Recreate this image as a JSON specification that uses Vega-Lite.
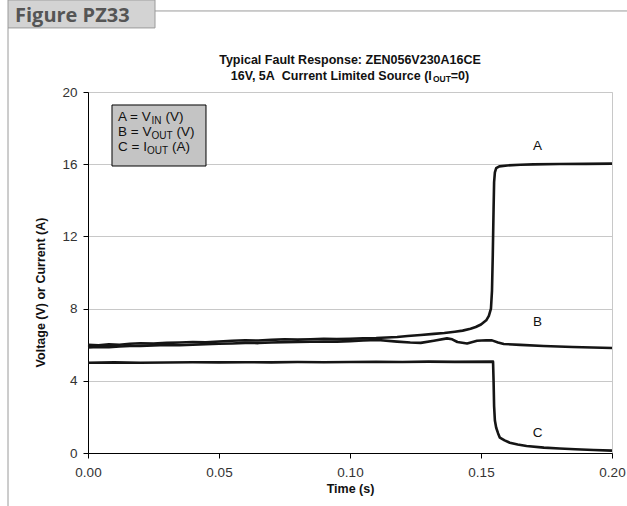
{
 "$schema": "https://vega.github.io/schema/vega-lite/v6.json",
 "width": 524, "height": 361,
 "autosize": {"type": "none"},
 "padding": {"left": 88, "top": 92, "right": 15, "bottom": 53},
 "background": "white",
 "config": {
  "font": "Liberation Sans",
  "view": {"stroke": "#c8c8c8", "strokeWidth": 1},
  "axis": {"labelFont": "Liberation Sans", "labelFontSize": 13.5, "labelColor": "#333", "labelFlush": false, "titleFont": "Liberation Sans", "titleFontSize": 12.5, "titleFontWeight": "bold", "titleColor": "#111", "domainColor": "#000", "tickColor": "#000", "tickSize": 5}
 },
 "datasets": {
  "curves": [
   {"s":"A","x":0,"y":6.0},{"s":"A","x":0.004,"y":5.97},{"s":"A","x":0.008,"y":6.02},{"s":"A","x":0.012,"y":6.0},{"s":"A","x":0.016,"y":6.05},{"s":"A","x":0.02,"y":6.08},{"s":"A","x":0.025,"y":6.06},{"s":"A","x":0.03,"y":6.1},{"s":"A","x":0.035,"y":6.12},{"s":"A","x":0.04,"y":6.15},{"s":"A","x":0.045,"y":6.13},{"s":"A","x":0.05,"y":6.18},{"s":"A","x":0.055,"y":6.22},{"s":"A","x":0.06,"y":6.25},{"s":"A","x":0.065,"y":6.23},{"s":"A","x":0.07,"y":6.27},{"s":"A","x":0.075,"y":6.3},{"s":"A","x":0.08,"y":6.28},{"s":"A","x":0.085,"y":6.3},{"s":"A","x":0.09,"y":6.33},{"s":"A","x":0.095,"y":6.31},{"s":"A","x":0.1,"y":6.33},{"s":"A","x":0.105,"y":6.35},{"s":"A","x":0.11,"y":6.37},{"s":"A","x":0.114,"y":6.4},{"s":"A","x":0.118,"y":6.43},{"s":"A","x":0.122,"y":6.48},{"s":"A","x":0.127,"y":6.54},{"s":"A","x":0.132,"y":6.6},{"s":"A","x":0.136,"y":6.65},{"s":"A","x":0.14,"y":6.72},{"s":"A","x":0.143,"y":6.78},{"s":"A","x":0.146,"y":6.88},{"s":"A","x":0.148,"y":6.98},{"s":"A","x":0.15,"y":7.12},{"s":"A","x":0.152,"y":7.35},{"s":"A","x":0.153,"y":7.6},{"s":"A","x":0.1538,"y":8.0},{"s":"A","x":0.1542,"y":9.0},{"s":"A","x":0.1545,"y":11.0},{"s":"A","x":0.1548,"y":13.5},{"s":"A","x":0.155,"y":15.0},{"s":"A","x":0.1553,"y":15.55},{"s":"A","x":0.1558,"y":15.78},{"s":"A","x":0.157,"y":15.88},{"s":"A","x":0.16,"y":15.93},{"s":"A","x":0.165,"y":15.97},{"s":"A","x":0.17,"y":15.99},{"s":"A","x":0.18,"y":16.01},{"s":"A","x":0.19,"y":16.02},{"s":"A","x":0.2,"y":16.03},
   {"s":"B","x":0,"y":5.85},{"s":"B","x":0.004,"y":5.88},{"s":"B","x":0.008,"y":5.86},{"s":"B","x":0.012,"y":5.9},{"s":"B","x":0.016,"y":5.93},{"s":"B","x":0.02,"y":5.93},{"s":"B","x":0.025,"y":5.96},{"s":"B","x":0.03,"y":5.98},{"s":"B","x":0.035,"y":5.97},{"s":"B","x":0.04,"y":6.0},{"s":"B","x":0.045,"y":6.03},{"s":"B","x":0.05,"y":6.05},{"s":"B","x":0.055,"y":6.07},{"s":"B","x":0.06,"y":6.1},{"s":"B","x":0.065,"y":6.09},{"s":"B","x":0.07,"y":6.12},{"s":"B","x":0.075,"y":6.14},{"s":"B","x":0.08,"y":6.15},{"s":"B","x":0.085,"y":6.16},{"s":"B","x":0.09,"y":6.18},{"s":"B","x":0.095,"y":6.17},{"s":"B","x":0.1,"y":6.2},{"s":"B","x":0.105,"y":6.23},{"s":"B","x":0.1106,"y":6.26},{"s":"B","x":0.118,"y":6.17},{"s":"B","x":0.123,"y":6.12},{"s":"B","x":0.127,"y":6.1},{"s":"B","x":0.132,"y":6.22},{"s":"B","x":0.137,"y":6.35},{"s":"B","x":0.139,"y":6.3},{"s":"B","x":0.141,"y":6.15},{"s":"B","x":0.1447,"y":6.07},{"s":"B","x":0.1485,"y":6.22},{"s":"B","x":0.152,"y":6.25},{"s":"B","x":0.1542,"y":6.24},{"s":"B","x":0.1565,"y":6.12},{"s":"B","x":0.1587,"y":6.04},{"s":"B","x":0.165,"y":5.99},{"s":"B","x":0.1739,"y":5.93},{"s":"B","x":0.185,"y":5.87},{"s":"B","x":0.2,"y":5.82},
   {"s":"C","x":0,"y":5.0},{"s":"C","x":0.01,"y":5.02},{"s":"C","x":0.02,"y":5.0},{"s":"C","x":0.03,"y":5.01},{"s":"C","x":0.04,"y":5.03},{"s":"C","x":0.05,"y":5.02},{"s":"C","x":0.06,"y":5.03},{"s":"C","x":0.07,"y":5.02},{"s":"C","x":0.08,"y":5.04},{"s":"C","x":0.09,"y":5.03},{"s":"C","x":0.1,"y":5.04},{"s":"C","x":0.11,"y":5.05},{"s":"C","x":0.12,"y":5.04},{"s":"C","x":0.13,"y":5.06},{"s":"C","x":0.14,"y":5.05},{"s":"C","x":0.1546,"y":5.06},{"s":"C","x":0.1548,"y":4.0},{"s":"C","x":0.155,"y":2.6},{"s":"C","x":0.1553,"y":1.8},{"s":"C","x":0.1558,"y":1.4},{"s":"C","x":0.1565,"y":1.1},{"s":"C","x":0.1572,"y":0.85},{"s":"C","x":0.159,"y":0.7},{"s":"C","x":0.161,"y":0.57},{"s":"C","x":0.164,"y":0.47},{"s":"C","x":0.1674,"y":0.39},{"s":"C","x":0.174,"y":0.3},{"s":"C","x":0.18,"y":0.25},{"s":"C","x":0.186,"y":0.21},{"s":"C","x":0.193,"y":0.17},{"s":"C","x":0.2,"y":0.13}
  ],
  "labels": [
   {"x":0.1716,"y":17.0,"t":"A"},
   {"x":0.1716,"y":7.27,"t":"B"},
   {"x":0.1716,"y":1.11,"t":"C"}
  ],
  "legendbox": [{"x":0.00916,"x2":0.045038,"y":19.28,"y2":15.9}],
  "legendmain": [
   {"x":0.01145,"y":18.615,"t":"A = V"},
   {"x":0.029542,"y":18.615,"t":"(V)"},
   {"x":0.01145,"y":17.784,"t":"B = V"},
   {"x":0.033779,"y":17.784,"t":"(V)"},
   {"x":0.01145,"y":16.953,"t":"C = I"},
   {"x":0.032061,"y":16.953,"t":"(A)"}
  ],
  "legendsub": [
   {"x":0.024198,"y":18.421,"t":"IN"},
   {"x":0.024198,"y":17.59,"t":"OUT"},
   {"x":0.022481,"y":16.759,"t":"OUT"}
  ],
  "title1": [{"x":0.1,"y":21.77,"t":"Typical Fault Response: ZEN056V230A16CE"}],
  "title2main": [
   {"x":0.054504,"y":20.89,"t":"16V, 5A\u00a0 Current Limited Source (I"},
   {"x":0.138473,"y":20.89,"t":"=0)"}
  ],
  "title2sub": [{"x":0.131641,"y":20.72,"t":"OUT"}],
  "tab": [{"x":-0.030534,"x2":0.025573,"y":25.1,"y2":23.55}],
  "tabtext": [{"x":-0.027863,"y":23.88,"t":"Figure PZ33"}],
  "hline": [{"x":0.025573,"x2":0.205725,"y":24.49}],
  "vline": [{"x":-0.030534,"y":23.55,"y2":-2.94}]
 },
 "layer": [
  {
   "data": {"name": "curves"},
   "mark": {"type": "line", "color": "#151515", "strokeWidth": 2.6, "strokeJoin": "round"},
   "encoding": {
    "x": {"field": "x", "type": "quantitative", "scale": {"domain": [0, 0.2], "nice": false, "zero": false},
          "axis": {"values": [0, 0.05, 0.1, 0.15, 0.2], "format": ".2f", "grid": false, "title": "Time (s)", "labelPadding": 7, "titlePadding": 4}},
    "y": {"field": "y", "type": "quantitative", "scale": {"domain": [0, 20], "nice": false},
          "axis": {"values": [0, 4, 8, 12, 16, 20], "gridColor": "#c8c8c8", "title": "Voltage (V) or Current (A)", "labelPadding": 6, "titlePadding": 14, "titleY": 200}},
    "detail": {"field": "s", "type": "nominal"}
   }
  },
  {
   "data": {"name": "legendbox"},
   "mark": {"type": "rect", "fill": "#c4c4c4", "stroke": "#000", "strokeWidth": 1},
   "encoding": {
    "x": {"field": "x", "type": "quantitative"}, "x2": {"field": "x2"},
    "y": {"field": "y", "type": "quantitative"}, "y2": {"field": "y2"}
   }
  },
  {
   "data": {"name": "legendmain"},
   "mark": {"type": "text", "align": "left", "baseline": "middle", "fontSize": 13.5, "color": "#111"},
   "encoding": {"x": {"field": "x", "type": "quantitative"}, "y": {"field": "y", "type": "quantitative"}, "text": {"field": "t"}}
  },
  {
   "data": {"name": "legendsub"},
   "mark": {"type": "text", "align": "left", "baseline": "middle", "fontSize": 10, "color": "#111"},
   "encoding": {"x": {"field": "x", "type": "quantitative"}, "y": {"field": "y", "type": "quantitative"}, "text": {"field": "t"}}
  },
  {
   "data": {"name": "labels"},
   "mark": {"type": "text", "align": "center", "baseline": "middle", "fontSize": 13.5, "color": "#111"},
   "encoding": {"x": {"field": "x", "type": "quantitative"}, "y": {"field": "y", "type": "quantitative"}, "text": {"field": "t"}}
  },
  {
   "data": {"name": "title1"},
   "mark": {"type": "text", "align": "center", "baseline": "middle", "fontSize": 12.5, "fontWeight": "bold", "color": "#111"},
   "encoding": {"x": {"field": "x", "type": "quantitative"}, "y": {"field": "y", "type": "quantitative"}, "text": {"field": "t"}}
  },
  {
   "data": {"name": "title2main"},
   "mark": {"type": "text", "align": "left", "baseline": "middle", "fontSize": 12.5, "fontWeight": "bold", "color": "#111"},
   "encoding": {"x": {"field": "x", "type": "quantitative"}, "y": {"field": "y", "type": "quantitative"}, "text": {"field": "t"}}
  },
  {
   "data": {"name": "title2sub"},
   "mark": {"type": "text", "align": "left", "baseline": "middle", "fontSize": 8.5, "fontWeight": "bold", "color": "#111"},
   "encoding": {"x": {"field": "x", "type": "quantitative"}, "y": {"field": "y", "type": "quantitative"}, "text": {"field": "t"}}
  },
  {
   "data": {"name": "tab"},
   "mark": {"type": "rect", "fill": "#d3d3d3", "stroke": "#9a9a9a", "strokeWidth": 1},
   "encoding": {
    "x": {"field": "x", "type": "quantitative"}, "x2": {"field": "x2"},
    "y": {"field": "y", "type": "quantitative"}, "y2": {"field": "y2"}
   }
  },
  {
   "data": {"name": "tabtext"},
   "mark": {"type": "text", "align": "left", "baseline": "alphabetic", "fontSize": 20, "fontWeight": "bold", "font": "Open Sans", "color": "#555555"},
   "encoding": {"x": {"field": "x", "type": "quantitative"}, "y": {"field": "y", "type": "quantitative"}, "text": {"field": "t"}}
  },
  {
   "data": {"name": "hline"},
   "mark": {"type": "rule", "color": "#9a9a9a", "strokeWidth": 1},
   "encoding": {"x": {"field": "x", "type": "quantitative"}, "x2": {"field": "x2"}, "y": {"field": "y", "type": "quantitative"}}
  },
  {
   "data": {"name": "vline"},
   "mark": {"type": "rule", "color": "#9a9a9a", "strokeWidth": 1},
   "encoding": {"x": {"field": "x", "type": "quantitative"}, "y": {"field": "y", "type": "quantitative"}, "y2": {"field": "y2"}}
  }
 ]
}
